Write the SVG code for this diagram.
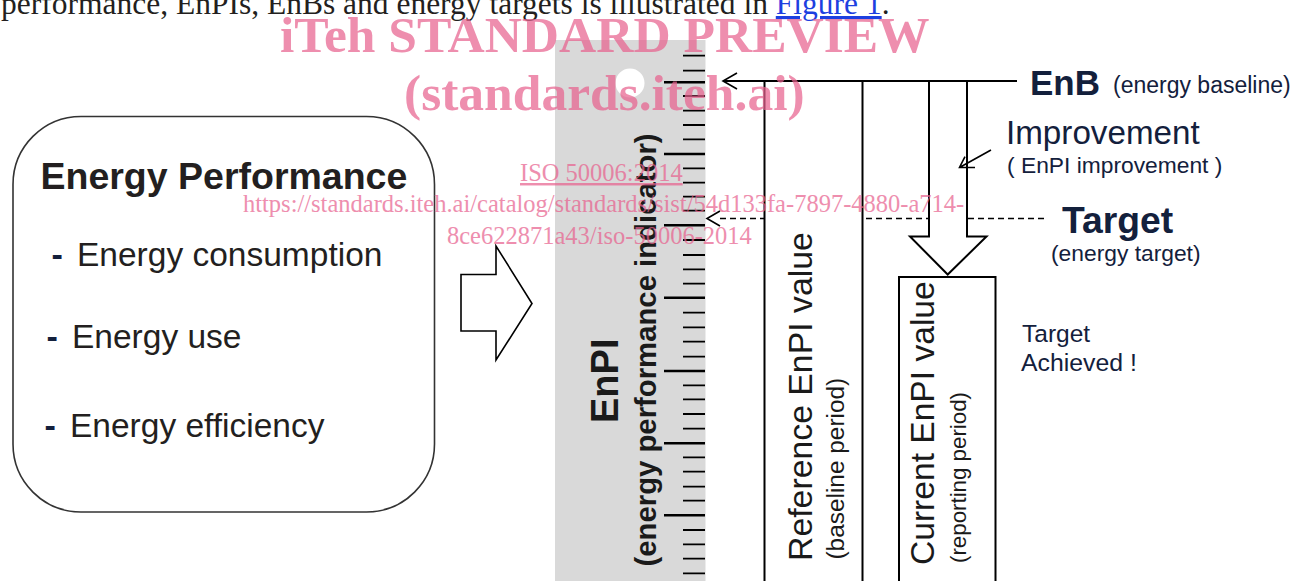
<svg xmlns="http://www.w3.org/2000/svg" width="1305" height="581" viewBox="0 0 1305 581">
  <style>
    .sans { font-family: "Liberation Sans", Arial, sans-serif; }
    .navy { fill: #13203c; }
    .ink { fill: #231f20; }
    .line { fill: none; stroke: #000; stroke-width: 2; }
    .thin { fill: none; stroke: #000; stroke-width: 1.6; }
    .dash { fill: none; stroke: #000; stroke-width: 1.5; stroke-dasharray: 6 4; }
    .mark { font-family: "Liberation Serif", "Times New Roman", serif; fill: #e8638f; opacity: 0.72; }
  </style>

  <!-- running text above the figure -->
  <g id="caption-line">
    <text x="1" y="14" font-family="Liberation Serif, serif" font-size="31.5" fill="#231f20">performance, EnPIs, EnBs and energy targets is illustrated in <tspan fill="#1d3fe0" text-decoration="underline">Figure 1</tspan>.</text>
  </g>

  <!-- energy performance box -->
  <g id="energy-performance">
    <rect x="13" y="116.5" width="421.5" height="395.5" rx="68" ry="68" fill="#fff" stroke="#333" stroke-width="1.6"/>
    <text class="sans ink" x="40.5" y="189" font-size="37.5" font-weight="bold">Energy Performance</text>
    <text class="sans navy" x="51.5" y="266" font-size="34" font-weight="bold">-</text>
    <text class="sans ink" x="77" y="266" font-size="33.5">Energy consumption</text>
    <text class="sans navy" x="46.5" y="348" font-size="34" font-weight="bold">-</text>
    <text class="sans ink" x="72" y="348" font-size="33.5">Energy use</text>
    <text class="sans navy" x="44.5" y="437" font-size="34" font-weight="bold">-</text>
    <text class="sans ink" x="70" y="437" font-size="33.5">Energy efficiency</text>
  </g>

  <!-- hollow block arrow -->
  <g id="block-arrow">
    <polygon class="thin" points="461,274.5 496,274.5 496,246 532,303.5 496,360 496,331 461,331"/>
  </g>

  <!-- EnPI scale -->
  <g id="enpi-scale">
    <rect x="555" y="40" width="150.5" height="541" fill="#d9d9d9"/>
    <circle cx="630" cy="83" r="14.5" fill="#fff"/>
    <path stroke="#000" stroke-width="1.8" fill="none" d="M683 55.7H705 M683 70.7H705 M683 96H705 M683 110.7H705 M683 125H705 M683 139.3H705 M683 168.3H705 M683 182.7H705 M683 196.7H705 M683 210.7H705 M683 240H705 M683 255H705 M683 269.3H705 M683 283.7H705 M683 312.7H705 M683 327.3H705 M683 341.7H705 M683 356.7H705 M683 385.3H705 M683 399.3H705 M683 414H705 M683 428.7H705 M683 457.3H705 M683 471.7H705 M683 486.7H705 M683 500.7H705 M683 530H705 M683 544.3H705 M683 558.7H705 M683 573.3H705"/>
    <path stroke="#000" stroke-width="2.4" fill="none" d="M664 82.3H705 M664 154H705 M664 225.3H705 M664 297.7H705 M664 371H705 M664 443.3H705 M664 515.3H705"/>
    <text class="sans" transform="translate(618,423) rotate(-90)" font-size="38" font-weight="bold" fill="#1a1a1a">EnPI</text>
    <text class="sans" transform="translate(656,566.5) rotate(-90)" font-size="29.3" font-weight="bold" fill="#1a1a1a">(energy performance indicator)</text>
  </g>

  <!-- reference value bar -->
  <g id="reference-value">
    <text class="sans" transform="translate(811.5,561) rotate(-90)" font-size="33.8" fill="#1a1a1a">Reference EnPI value</text>
    <text class="sans" transform="translate(844,559.5) rotate(-90)" font-size="24.4" fill="#1a1a1a">(baseline period)</text>
  </g>

  <!-- current value bar -->
  <g id="current-value">
    <rect class="line" x="899" y="277" width="96.5" height="320"/>
    <text class="sans" transform="translate(934,565) rotate(-90)" font-size="33.6" fill="#1a1a1a">Current EnPI value</text>
    <text class="sans" transform="translate(965.5,563) rotate(-90)" font-size="22.3" fill="#1a1a1a">(reporting period)</text>
  </g>

  <!-- labels on the right -->
  <g id="enb-label">
    <text class="sans navy" x="1030" y="95" font-size="35" font-weight="bold">EnB</text>
    <text class="sans navy" x="1113" y="93" font-size="23">(energy baseline)</text>
  </g>
  <g id="improvement-label">
    <text class="sans navy" x="1006" y="144" font-size="33.2">Improvement</text>
    <text class="sans navy" x="1007" y="173" font-size="22.8">( EnPI improvement )</text>
  </g>
  <g id="target-label">
    <text class="sans navy" x="1062" y="233" font-size="37.3" font-weight="bold">Target</text>
    <text class="sans navy" x="1051" y="261" font-size="22.8">(energy target)</text>
  </g>
  <g id="achieved-label">
    <text class="sans navy" x="1022" y="341.7" font-size="24.5">Target</text>
    <text class="sans navy" x="1021" y="370.7" font-size="24.8">Achieved !</text>
  </g>

  <!-- connectors -->
  <g id="connectors">
    <!-- EnB level -->
    <path class="line" d="M723 81H1017"/>
    <path class="thin" d="M737 73L723 81L737 89"/>
    <!-- reference bar sides -->
    <path class="line" d="M764.5 81V581 M862.5 81V581"/>
    <!-- improvement block arrow -->
    <path class="line" d="M929 81V236.5H910L947.7 274.5L986.5 236.5H967V81"/>
    <!-- target level -->
    <path class="dash" d="M720 218.5H764 M866 218.5H928 M968 218.5H1047"/>
    <path class="thin" d="M720 211L707 218.5L720 226"/>
    <!-- improvement pointer -->
    <path class="thin" d="M991 150L959.5 167.5 M975 167.5H959.5L965 156.7"/>
  </g>

  <!-- preview watermark -->
  <g id="watermark">
    <text class="mark" x="280" y="52" font-size="51.5" font-weight="bold">iTeh STANDARD PREVIEW</text>
    <text class="mark" x="404" y="110" font-size="51.5" font-weight="bold">(standards.iteh.ai)</text>
    <text class="mark" x="520" y="181" font-size="24.5" text-decoration="underline">ISO 50006:2014</text>
    <text class="mark" x="243" y="212" font-size="24.5">https://standards.iteh.ai/catalog/standards/sist/54d133fa-7897-4880-a714-</text>
    <text class="mark" x="447" y="244" font-size="24.5">8ce622871a43/iso-50006-2014</text>
  </g>
</svg>
